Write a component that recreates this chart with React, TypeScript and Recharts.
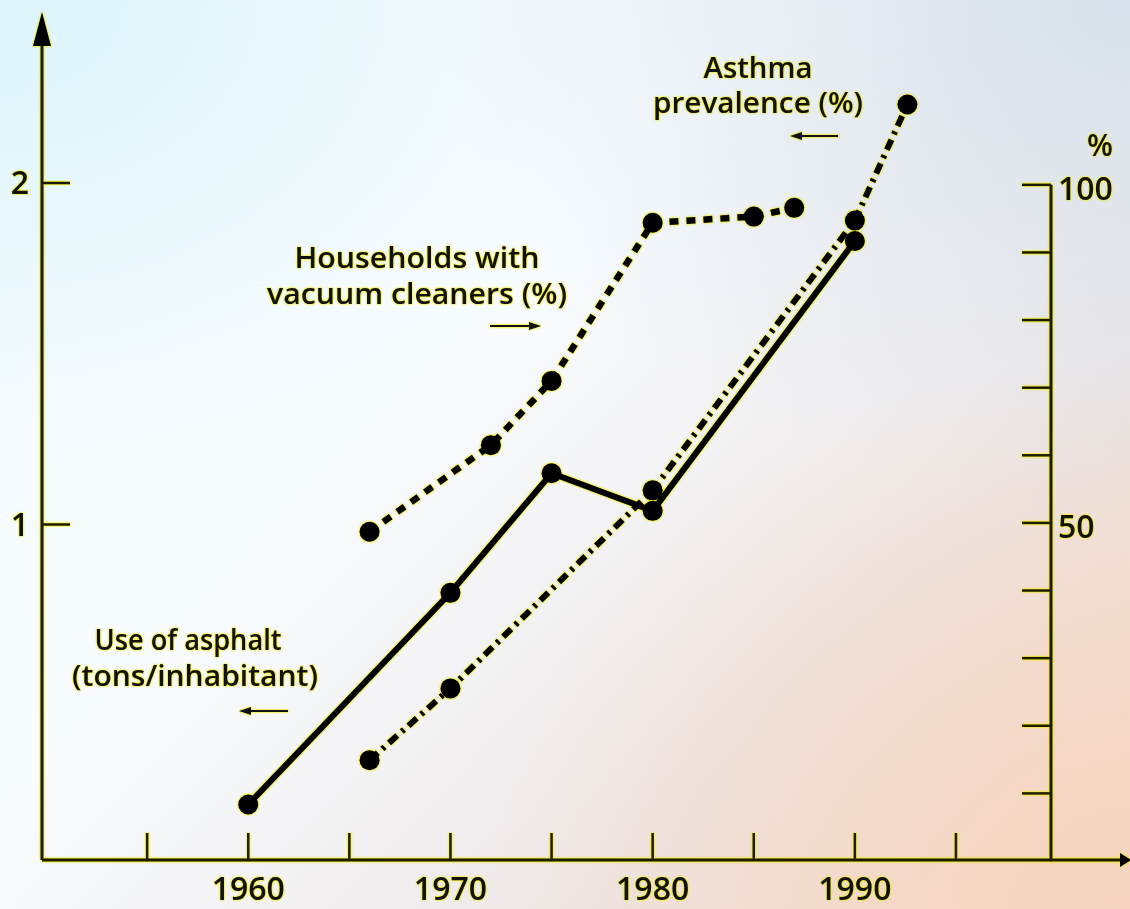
import React from "react";
import { LineChart, Line, XAxis, YAxis, ReferenceLine } from "recharts";

// Use of asphalt (tons/inhabitant) - left axis
const asphaltYears = [1960, 1970, 1975, 1980, 1990];
const asphaltTons = [0.18, 0.8, 1.15, 1.04, 1.83];

// Households with vacuum cleaners (%) - right axis
const vacuumYears = [1966, 1972, 1975, 1980, 1985, 1987];
const vacuumPct = [48.7, 61.5, 71, 94.4, 95.3, 96.6];

// Asthma prevalence (%) - left axis
const asthmaYears = [1966, 1970, 1980, 1990, 1992.6];
const asthmaPct = [0.31, 0.52, 1.1, 1.89, 2.23];

const xTicks = [1955, 1960, 1965, 1970, 1975, 1980, 1985, 1990, 1995];
const xLabels = [1960, 1970, 1980, 1990];
const leftTicks = [1, 2];
const rightTicks = [10, 20, 30, 40, 50, 60, 70, 80, 90, 100];
const rightLabels = [50, 100];

const asphaltData = asphaltYears.map((year, i) => ({ year, value: asphaltTons[i] }));
const vacuumData = vacuumYears.map((year, i) => ({ year, value: vacuumPct[i] }));
const asthmaData = asthmaYears.map((year, i) => ({ year, value: asthmaPct[i] }));

const X_MIN = 1949.8;
const X_MAX = 1999.7;

const INK = "#1c1c04";
const FONT = "'Open Sans', sans-serif";

const XTick = (props: any) => {
  const { x, payload } = props;
  const y = 860;
  return (
    <g>
      <line x1={x} x2={x} y1={y} y2={y - 27} stroke={INK} strokeWidth={2.5} />
      {xLabels.includes(payload.value) && (
        <text x={x} y={y + 40} textAnchor="middle" fontSize={32} fontWeight={600} fill="#111" fontFamily={FONT}>
          {payload.value}
        </text>
      )}
    </g>
  );
};

const LeftTick = (props: any) => {
  const { y, payload } = props;
  const x = 42;
  return (
    <g>
      <line x1={x} x2={x + 28} y1={y} y2={y} stroke={INK} strokeWidth={2.5} />
      <text x={x - 13} y={y + 11} textAnchor="end" fontSize={32} fontWeight={600} fill="#111" fontFamily={FONT}>
        {payload.value}
      </text>
    </g>
  );
};

const RightTick = (props: any) => {
  const { y, payload } = props;
  const x = 1051;
  return (
    <g>
      <line x1={x - 29} x2={x} y1={y} y2={y} stroke={INK} strokeWidth={2.5} />
      {rightLabels.includes(payload.value) && (
        <text x={x + 7} y={y + 15} textAnchor="start" fontSize={32} fontWeight={600} fill="#111" fontFamily={FONT}>
          {payload.value}
        </text>
      )}
    </g>
  );
};

const Note = ({ x, y, w, children }: any) => (
  <text x={x} y={y + 10} textAnchor="middle" fontSize={28} fontWeight={600} fill="#111" fontFamily={FONT}
    textLength={w} lengthAdjust="spacingAndGlyphs">
    {children}
  </text>
);

const Arrow = ({ x1, x2, y }: any) => {
  const dir = x2 > x1 ? 1 : -1;
  return (
    <g>
      <line x1={x1} x2={x2 - dir * 4} y1={y} y2={y} stroke="#111" strokeWidth={2} />
      <polygon points={`${x2},${y} ${x2 - dir * 12},${y - 4} ${x2 - dir * 12},${y + 4}`} fill="#111" />
    </g>
  );
};

export default function App() {
  return (
    <div
      style={{
        position: "absolute",
        left: 0,
        top: 0,
        width: 1130,
        height: 909,
        overflow: "hidden",
        background:
          "radial-gradient(ellipse 700px 500px at 1130px 0px, rgba(214,224,234,0.95), rgba(214,224,234,0) 100%)," +
          "radial-gradient(ellipse 650px 550px at 1130px 909px, rgba(246,212,190,1), rgba(246,212,190,0) 100%)," +
          "radial-gradient(ellipse 600px 450px at 0px 0px, rgba(220,244,251,1), rgba(220,244,251,0) 100%)," +
          "linear-gradient(135deg, #f4fbfe 0%, #f8fcff 40%, #ede6e6 75%, #f3dccd 100%)",
      }}
    >
      <div style={{ position: "absolute", left: 0, top: 0, filter: "drop-shadow(0 0 1px #f2ee00) drop-shadow(0 0 0.6px #f2ee00)" }}>
        <LineChart width={1130} height={909} margin={{ top: 30, right: 59, bottom: 29, left: 22 }}>
          <XAxis
            dataKey="year"
            type="number"
            domain={[X_MIN, X_MAX]}
            ticks={xTicks}
            allowDataOverflow
            height={20}
            tickSize={0}
            tickMargin={0}
            tickLine={false}
            axisLine={{ stroke: INK, strokeWidth: 3 }}
            tick={XTick}
          />
          <YAxis
            yAxisId="left"
            type="number"
            domain={[0.0176, 2.448]}
            ticks={leftTicks}
            allowDataOverflow
            width={20}
            tickSize={0}
            tickMargin={0}
            tickLine={false}
            axisLine={{ stroke: INK, strokeWidth: 3 }}
            tick={LeftTick}
          />
          <YAxis
            yAxisId="right"
            orientation="right"
            type="number"
            domain={[0.148, 122.9]}
            ticks={rightTicks}
            allowDataOverflow
            width={20}
            tickSize={0}
            tickMargin={0}
            tickLine={false}
            axisLine={false}
            tick={RightTick}
          />
          <ReferenceLine
            yAxisId="right"
            segment={[{ x: X_MAX, y: 0.148 }, { x: X_MAX, y: 100 }]}
            stroke={INK}
            strokeWidth={3}
            ifOverflow="visible"
          />
          <Line
            yAxisId="left"
            data={asphaltData}
            dataKey="value"
            type="linear"
            stroke="#000"
            strokeWidth={6}
            dot={{ r: 10, fill: "#000", stroke: "none" }}
            isAnimationActive={false}
          />
          <Line
            yAxisId="right"
            data={vacuumData}
            dataKey="value"
            type="linear"
            stroke="#000"
            strokeWidth={6.5}
            strokeDasharray="9 8"
            dot={{ r: 10, fill: "#000", stroke: "none" }}
            isAnimationActive={false}
          />
          <Line
            yAxisId="left"
            data={asthmaData}
            dataKey="value"
            type="linear"
            stroke="#000"
            strokeWidth={6}
            strokeDasharray="11 6 3 6"
            dot={{ r: 10, fill: "#000", stroke: "none" }}
            isAnimationActive={false}
          />
        </LineChart>
        <svg width={1130} height={909} style={{ position: "absolute", left: 0, top: 0, pointerEvents: "none" }}>
          {/* axis arrows */}
          <line x1={42} x2={42} y1={31} y2={40} stroke={INK} strokeWidth={3} />
          <polygon points="42,12 33,46 51,46" fill="#000" />
          <line x1={1050} x2={1126} y1={860} y2={860} stroke={INK} strokeWidth={3} />
          <polygon points="1131,860 1120,853 1120,867" fill="#000" />
          <text x={1100} y={156} textAnchor="middle" fontSize={30} fontWeight={600} fill="#111" fontFamily={FONT}>%</text>

          <Note x={758} y={68} w={109}>Asthma</Note>
          <Note x={758} y={103} w={210}>prevalence (%)</Note>
          <Arrow x1={838} x2={790} y={136} />

          <Note x={417} y={258} w={245}>Households with</Note>
          <Note x={417} y={294} w={300}>vacuum cleaners (%)</Note>
          <Arrow x1={490} x2={541} y={326} />

          <Note x={188} y={640} w={187}>Use of asphalt</Note>
          <Note x={195} y={676} w={246}>(tons/inhabitant)</Note>
          <Arrow x1={288} x2={239} y={711} />
        </svg>
      </div>
    </div>
  );
}
